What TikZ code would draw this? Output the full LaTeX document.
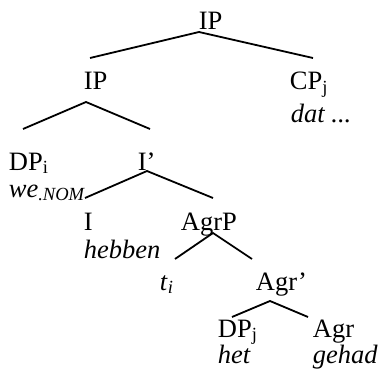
\documentclass[tikz,border=0pt]{standalone}
\usepackage{fontspec}
\setmainfont{Liberation Serif}
\begin{document}
\begin{tikzpicture}[x=1pt,y=-1pt,line width=1.8pt,
    lab/.style={anchor=base west,inner sep=0pt},
    font=\fontsize{26.5}{30}\selectfont]
    \useasboundingbox (0,0) rectangle (378,369);
    % etichette
    \node[lab] (ipTop) at (198,30) {IP};
    \node[lab] (ipLow) at (83,90) {IP};
    \node[lab] (cpj) at (289,90) {CP\textsubscript{j}};
    \node[lab] (dat) at (290,123) {\textit{dat ...}};
    \node[lab] (dpi) at (8,170) {DP\textsubscript{i}};
    \node[lab] (ibar) at (137,170) {I’};
    \node[lab] (we) at (8,197) {\textit{we}\textsubscript{\textit{.NOM}}};
    \node[lab] (ihead) at (83,230) {I};
    \node[lab] (agrp) at (180,230) {AgrP};
    \node[lab] (hebben) at (83,258) {\textit{hebben}};
    \node[lab] (ti) at (159,290) {\textit{t}\textsubscript{\textit{i}}};
    \node[lab] (agrbar) at (255,290) {Agr’};
    \node[lab] (dpj) at (217,337) {DP\textsubscript{j}};
    \node[lab] (agr) at (312,337) {Agr};
    \node[lab] (het) at (217,363) {\textit{het}};
    \node[lab] (gehad) at (312,363) {\textit{gehad}};
    % punti dei rami
    \coordinate (aTop) at (199,32);
    \coordinate (lTop) at (90,58);
    \coordinate (rTop) at (313,58);
    \coordinate (aIp) at (86,102);
    \coordinate (lIp) at (23,129);
    \coordinate (rIp) at (150,129);
    \coordinate (aIbar) at (147,171);
    \coordinate (lIbar) at (85,198);
    \coordinate (rIbar) at (213,198);
    \coordinate (aAgrp) at (213,233);
    \coordinate (lAgrp) at (175,259);
    \coordinate (rAgrp) at (252,259);
    \coordinate (aAgrbar) at (270,301);
    \coordinate (lAgrbar) at (232,317);
    \coordinate (rAgrbar) at (308,317);
    % rami
    \draw (lTop) -- (aTop) -- (rTop); %IP -> IP, CP
    \draw (lIp) -- (aIp) -- (rIp); %IP -> DP, I'
    \draw (lIbar) -- (aIbar) -- (rIbar); %I' -> I, AgrP
    \draw (lAgrp) -- (aAgrp) -- (rAgrp); %AgrP -> t, Agr'
    \draw (lAgrbar) -- (aAgrbar) -- (rAgrbar); %Agr' -> DP, Agr
\end{tikzpicture}
\end{document}
